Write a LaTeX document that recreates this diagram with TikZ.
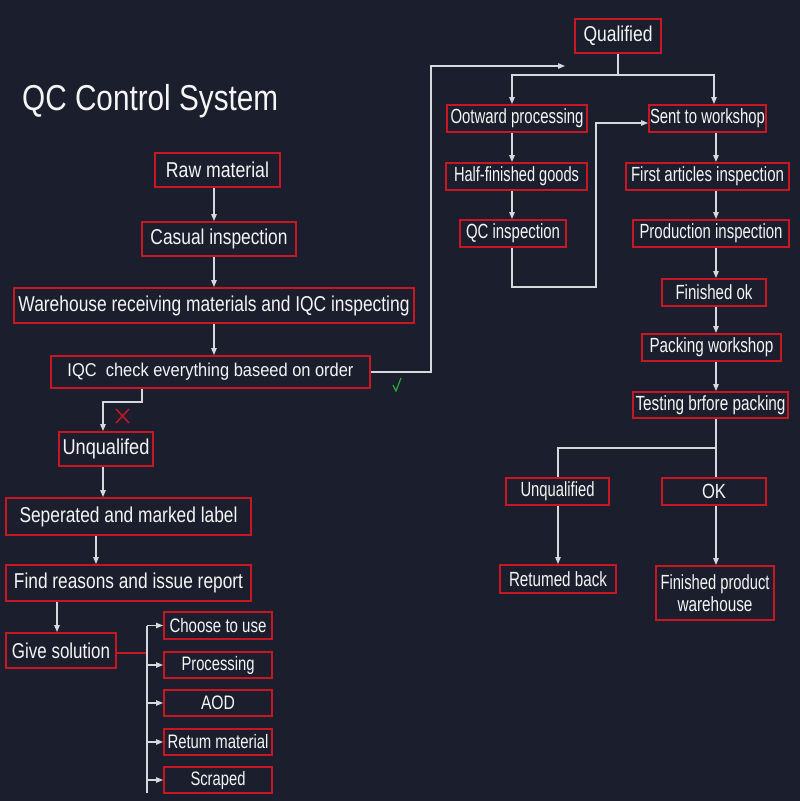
\documentclass[tikz,border=0pt]{standalone}
\usepackage{fontspec}
\setmainfont{Liberation Sans}
\usetikzlibrary{arrows.meta}
\definecolor{qcbg}{RGB}{27,30,44}
\definecolor{qcred}{RGB}{200,22,34}
\definecolor{qcline}{RGB}{215,215,222}
\definecolor{qcwhite}{RGB}{245,245,245}
\definecolor{qcgreen}{RGB}{40,170,60}
\newcommand{\qcfit}[2]{\resizebox{#1pt}{\height}{#2}}
\tikzset{
  bx/.style={draw=qcred, line width=2pt, fill=qcbg, text=qcwhite, inner sep=0pt,
    font=\fontsize{21.5}{23}\selectfont},
  rbx/.style={bx, font=\fontsize{20.5}{22}\selectfont},
  obx/.style={bx, font=\fontsize{19.5}{21}\selectfont},
  ln/.style={draw=qcline, line width=1.2pt},
  arr/.style={ln, -{Triangle[length=7pt,width=5.5pt]}},
}
\begin{document}
\begin{tikzpicture}[x=1pt,y=-1pt]
\fill[qcbg] (0,0) rectangle (800,801);
\useasboundingbox (0,0) rectangle (800,801);

% title
\node[text=qcwhite, font=\fontsize{36}{38}\selectfont, inner sep=0pt, anchor=base west] (title) at (22,110) {\qcfit{256}{QC Control System}};

% left column
\node[bx, minimum width=125, minimum height=34] (raw) at (217.5,170) {\qcfit{103}{Raw material}};
\node[bx, minimum width=154, minimum height=34] (casual) at (219,239) {\qcfit{137}{Casual inspection}};
\node[bx, minimum width=400, minimum height=35] (ware) at (214,305.5) {\qcfit{391}{Warehouse receiving materials and IQC inspecting}};
\node[bx, minimum width=319, minimum height=32, font=\fontsize{18.5}{20}\selectfont] (iqc) at (210.5,372) {\qcfit{286}{IQC\ \ check everything baseed on order}};

\node[bx, minimum width=94, minimum height=34] (unq) at (106,449) {\qcfit{87}{Unqualifed}};
\node[bx, minimum width=245, minimum height=37] (sep) at (128.5,516.5) {\qcfit{218}{Seperated and marked label}};
\node[bx, minimum width=245, minimum height=36] (find) at (128.5,583) {\qcfit{229}{Find reasons and issue report}};
\node[bx, minimum width=110, minimum height=35] (give) at (61,650.5) {\qcfit{98}{Give solution}};

\node[obx, minimum width=108, minimum height=27] (choose) at (218,625.5) {\qcfit{97}{Choose to use}};
\node[obx, minimum width=108, minimum height=26] (proc) at (218,665) {\qcfit{73}{Processing}};
\node[obx, minimum width=108, minimum height=26] (aod) at (218,703) {\qcfit{34}{AOD}};
\node[obx, minimum width=108, minimum height=26] (ret) at (218,742) {\qcfit{101}{Retum material}};
\node[obx, minimum width=108, minimum height=26] (scr) at (218,780) {\qcfit{55}{Scraped}};

% right part
\node[bx, minimum width=86, minimum height=34] (qual) at (618,36) {\qcfit{69}{Qualified}};
\node[rbx, minimum width=140, minimum height=27] (oot) at (517,118.5) {\qcfit{133}{Ootward processing}};
\node[rbx, minimum width=141, minimum height=27] (half) at (516.5,176.5) {\qcfit{125}{Half-finished goods}};
\node[rbx, minimum width=106, minimum height=27] (qci) at (513,233.5) {\qcfit{94}{QC inspection}};
\node[rbx, minimum width=117, minimum height=27] (sent) at (707.5,118.5) {\qcfit{115}{Sent to workshop}};
\node[rbx, minimum width=163, minimum height=27] (first) at (707.5,176.5) {\qcfit{153}{First articles inspection}};
\node[rbx, minimum width=156, minimum height=27] (prod) at (711,233.5) {\qcfit{143}{Production inspection}};
\node[rbx, minimum width=104, minimum height=27] (fok) at (714,292.5) {\qcfit{77}{Finished ok}};
\node[rbx, minimum width=139, minimum height=27] (pack) at (711.5,347.5) {\qcfit{124}{Packing workshop}};
\node[rbx, minimum width=155, minimum height=26] (test) at (710.5,405) {\qcfit{150}{Testing brfore packing}};
\node[rbx, minimum width=103, minimum height=27] (unq2) at (557.5,491.5) {\qcfit{74}{Unqualified}};
\node[rbx, minimum width=104, minimum height=27] (ok) at (714,491.5) {\qcfit{24}{OK}};
\node[rbx, minimum width=116, minimum height=28] (retb) at (558,579) {\qcfit{98}{Retumed back}};
\node[rbx, minimum width=118, minimum height=54, align=center, font=\fontsize{20.5}{22}\selectfont] (fpw) at (715,593) {\qcfit{109}{Finished product}\\\qcfit{75}{warehouse}};

% helper coordinates
\coordinate (xa) at (214,0);
\coordinate (xl) at (512,0);
\coordinate (xr) at (716,0);
\coordinate (xq) at (714,0);
\coordinate (xu) at (558,0);

% left column connectors
\draw[arr] (raw.south -| xa) -- (casual.north -| xa);
\draw[arr] (casual.south -| xa) -- (ware.north -| xa);
\draw[arr] (ware.south -| xa) -- (iqc.north -| xa);

\coordinate (iqcdown) at (142,0);
\coordinate (unqx) at (103,0);
\coordinate (iqcj) at (142,402);
\draw[arr] (iqc.south -| iqcdown) -- (iqcj) -- (iqcj -| unqx) -- (unq.north -| unqx);
\draw[qcred, line width=1.5pt] (116,409) -- (129,423) (116,423) -- (129,409);

\draw[arr] (unq.south -| unqx) -- (sep.north -| unqx);
\coordinate (sepx) at (96,0);
\draw[arr] (sep.south -| sepx) -- (find.north -| sepx);
\coordinate (findx) at (57,0);
\draw[arr] (find.south -| findx) -- (give.north -| findx);

\coordinate (brk) at (147,653);
\draw[qcred, line width=1.5pt] (give.east |- brk) -- (brk);
\coordinate (brktop) at (147,626);
\coordinate (brkbot) at (147,793);
\draw[ln] (brktop) -- (brkbot);
\foreach \n in {choose,proc,aod,ret,scr}
  \draw[arr] (brktop |- \n.west) -- (\n.west);

% IQC to qualified
\coordinate (up1) at (431,372);
\coordinate (up2) at (431,66);
\coordinate (upend) at (565,66);
\draw[arr] (iqc.east |- up1) -- (up1) -- (up2) -- (upend);
\draw[qcgreen, line width=1.2pt] (393,385) -- (396,391) -- (401,378);

% qualified split
\coordinate (qj) at (618,75);
\draw[ln] (qual.south) -- (qj);
\draw[arr] (qj) -- (qj -| xl) -- (oot.north -| xl);
\draw[arr] (qj) -- (qj -| xq) -- (sent.north -| xq);

\draw[arr] (oot.south -| xl) -- (half.north -| xl);
\draw[arr] (half.south -| xl) -- (qci.north -| xl);
\coordinate (lp1) at (512,287);
\coordinate (lp2) at (596,287);
\coordinate (lp3) at (596,123);
\draw[arr] (qci.south -| xl) -- (lp1) -- (lp2) -- (lp3) -- (sent.west |- lp3);

\draw[arr] (sent.south -| xr) -- (first.north -| xr);
\draw[arr] (first.south -| xr) -- (prod.north -| xr);
\draw[arr] (prod.south -| xr) -- (fok.north -| xr);
\draw[arr] (fok.south -| xr) -- (pack.north -| xr);
\draw[arr] (pack.south -| xr) -- (test.north -| xr);

\coordinate (tj) at (716,448);
\draw[ln] (test.south -| xr) -- (tj) -- (tj -| xu) -- (unq2.north -| xu);
\draw[ln] (tj) -- (ok.north -| xr);
\draw[arr] (unq2.south -| xu) -- (retb.north -| xu);
\draw[arr] (ok.south -| xr) -- (fpw.north -| xr);
\end{tikzpicture}
\end{document}
